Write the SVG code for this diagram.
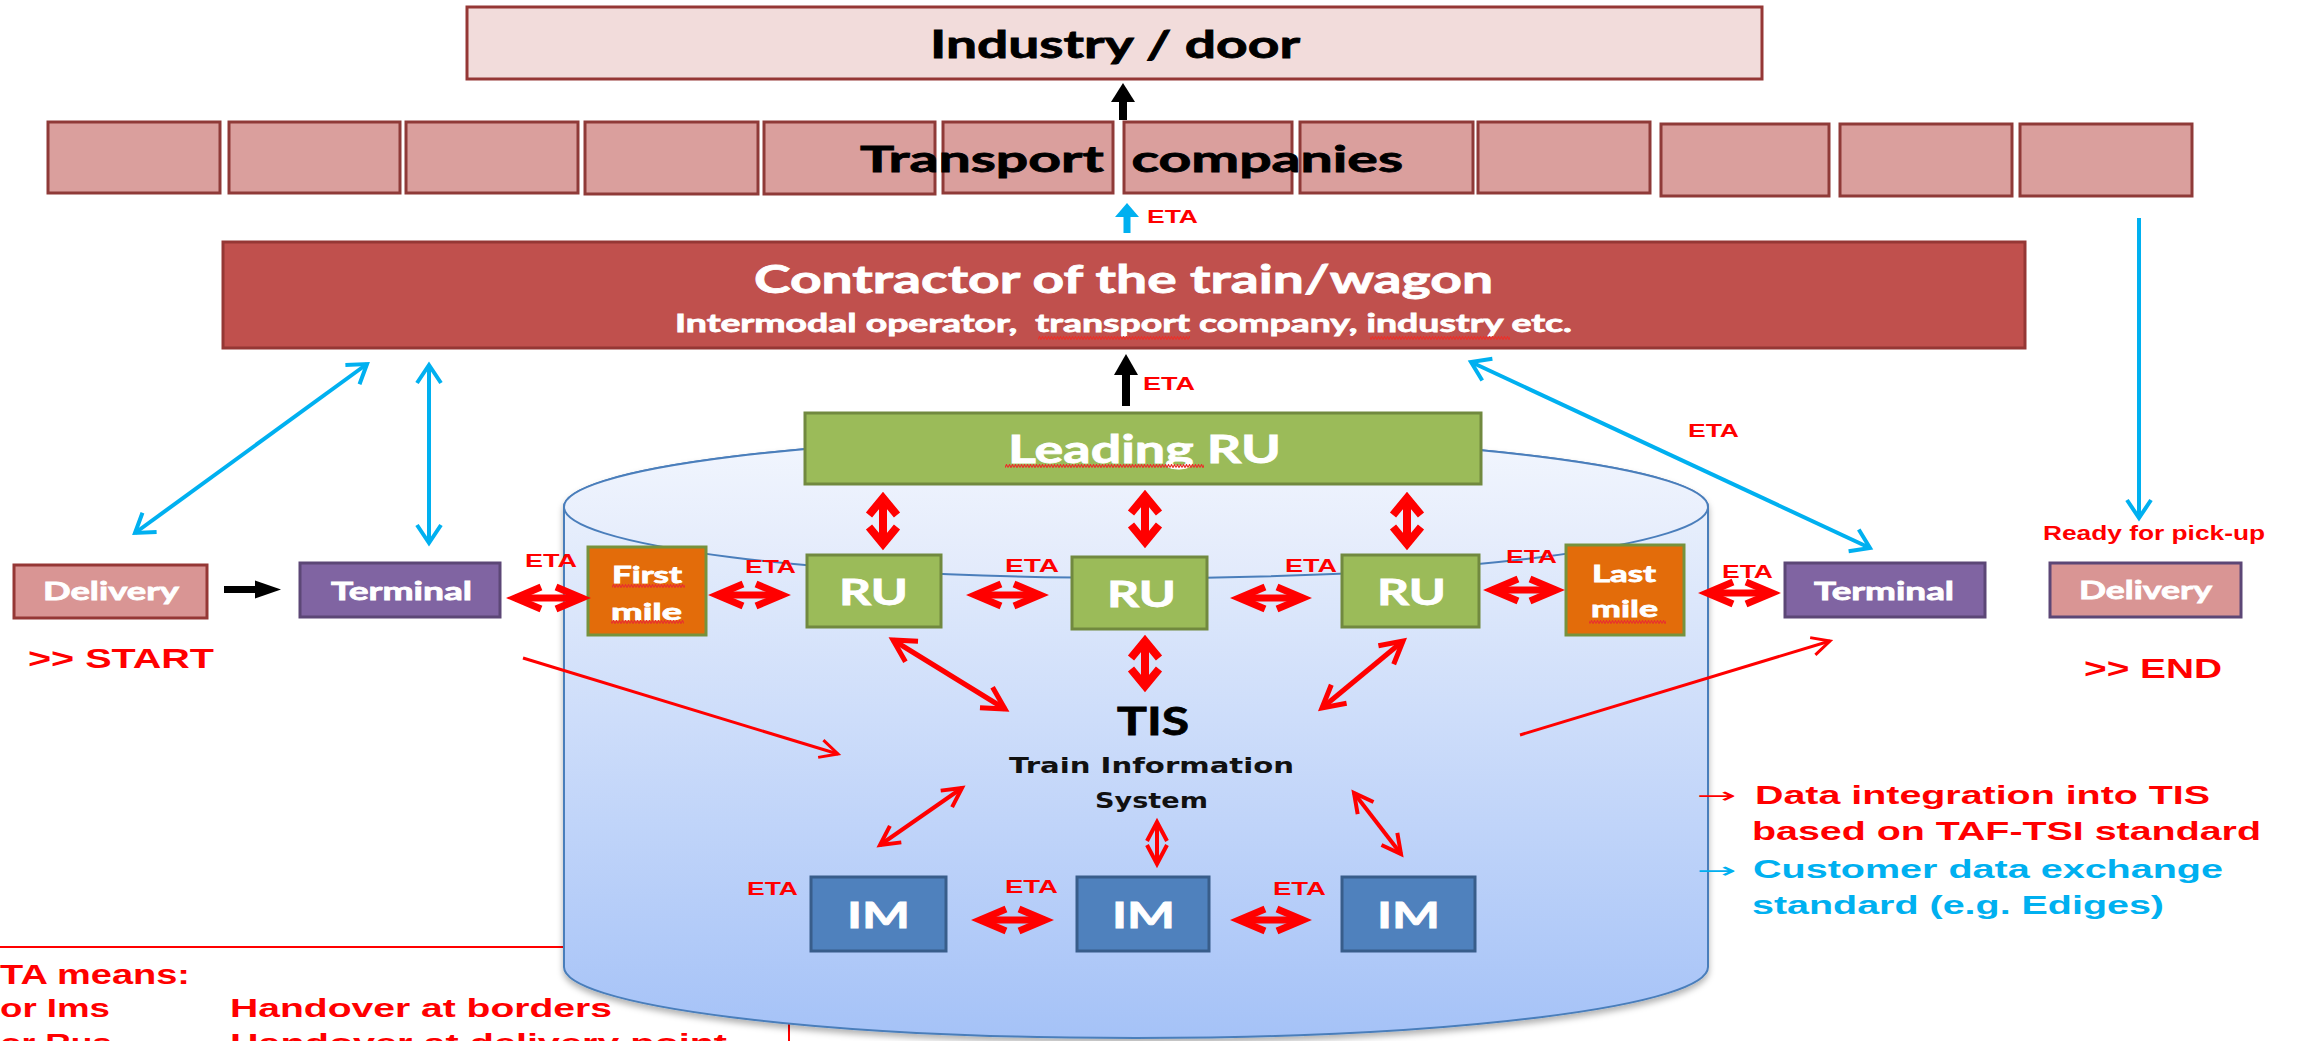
<svg xmlns="http://www.w3.org/2000/svg" width="2302" height="1041" viewBox="0 0 2302 1041">
<style>
.cal{font-family:Lato,'Liberation Sans',sans-serif;font-weight:bold}
.ar{font-family:'Liberation Sans',Arial,sans-serif;font-weight:bold}
.dv{font-family:'DejaVu Sans','Liberation Sans',sans-serif;font-weight:bold}
.w{fill:#FFFFFF;stroke:#FFFFFF;stroke-width:0.8}
.k{fill:#000000;stroke:#000000;stroke-width:0.8}
.red{fill:#FF0000}
.blu{fill:#00B0F0}
.eta{font-family:'Liberation Sans',Arial,sans-serif;font-weight:bold;font-size:19px;fill:#FF0000}
.rbox{stroke:#953735;stroke-width:3}
.tc{fill:#DA9F9D;stroke:#8F3A38;stroke-width:3}
.grn{fill:#9BBB59;stroke:#71893F;stroke-width:3}
.org{fill:#E36C0A;stroke:#76923C;stroke-width:3}
.pur{fill:#8064A2;stroke:#5C4776;stroke-width:3}
.im{fill:#4F81BD;stroke:#385D8A;stroke-width:3}
.rt{stroke:#FF0000;fill:none}
.bl{stroke:#00B0F0;stroke-width:4;fill:none}
</style>
<defs>
<linearGradient id="body" gradientUnits="userSpaceOnUse" x1="0" y1="507" x2="0" y2="1038">
<stop offset="0" stop-color="#E8EFFC"/>
<stop offset="1" stop-color="#A5C2F7"/>
</linearGradient>
<linearGradient id="top" gradientUnits="userSpaceOnUse" x1="0" y1="436" x2="0" y2="578">
<stop offset="0" stop-color="#F2F6FE"/>
<stop offset="1" stop-color="#E2EAFB"/>
</linearGradient>
<filter id="sh" x="-5%" y="-5%" width="110%" height="115%">
<feDropShadow dx="0" dy="4" stdDeviation="3" flood-color="#000" flood-opacity="0.3"/>
</filter>
<pattern id="sq" width="6" height="4" patternUnits="userSpaceOnUse">
<path d="M0,3.5 L1.5,0.5 L3,3.5 L4.5,0.5 L6,3.5" fill="none" stroke="#E8322C" stroke-width="1.2"/>
</pattern>
<marker id="rh" viewBox="-40 -25 50 50" markerWidth="50" markerHeight="50" refX="0" refY="0" orient="auto-start-reverse" markerUnits="userSpaceOnUse" overflow="visible">
<path d="M-26,-11 L0,0 L-26,11" fill="none" stroke="#FF0000" stroke-width="7"/>
</marker>
<marker id="rv" viewBox="-40 -25 50 50" markerWidth="50" markerHeight="50" refX="0" refY="0" orient="auto-start-reverse" markerUnits="userSpaceOnUse" overflow="visible">
<path d="M-17,-14 L0,0 L-17,14" fill="none" stroke="#FF0000" stroke-width="8"/>
</marker>
<marker id="rd" viewBox="-40 -25 50 50" markerWidth="50" markerHeight="50" refX="0" refY="0" orient="auto-start-reverse" markerUnits="userSpaceOnUse" overflow="visible">
<path d="M-22,-12 L0,0 L-22,12" fill="none" stroke="#FF0000" stroke-width="5"/>
</marker>
<marker id="rs" viewBox="-40 -25 50 50" markerWidth="50" markerHeight="50" refX="0" refY="0" orient="auto-start-reverse" markerUnits="userSpaceOnUse" overflow="visible">
<path d="M-18,-9 L0,0 L-18,9" fill="none" stroke="#FF0000" stroke-width="3"/>
</marker>
<marker id="rm" viewBox="-40 -25 50 50" markerWidth="50" markerHeight="50" refX="0" refY="0" orient="auto-start-reverse" markerUnits="userSpaceOnUse" overflow="visible">
<path d="M-19,-10 L0,0 L-19,10" fill="none" stroke="#FF0000" stroke-width="4"/>
</marker>
<marker id="bt" viewBox="-40 -25 50 50" markerWidth="50" markerHeight="50" refX="0" refY="0" orient="auto-start-reverse" markerUnits="userSpaceOnUse" overflow="visible">
<path d="M-18,-12 L0,0 L-18,12" fill="none" stroke="#00B0F0" stroke-width="4"/>
</marker>
</defs>
<rect x="0" y="0" width="2302" height="1041" fill="#FFFFFF"/>

<!-- ETA legend frame (behind the cylinder) -->
<g id="eta-legend">
<path d="M-5,947 H789 V1046" fill="none" stroke="#FF0000" stroke-width="2"/>
<text class="ar red" x="0" y="984" font-size="28" textLength="190" lengthAdjust="spacingAndGlyphs">TA means:</text>
<text class="ar red" x="0" y="1017" font-size="26" textLength="110" lengthAdjust="spacingAndGlyphs">or Ims</text>
<text class="ar red" x="230" y="1017" font-size="26" textLength="382" lengthAdjust="spacingAndGlyphs">Handover at borders</text>
<text class="ar red" x="0" y="1052" font-size="26" textLength="112" lengthAdjust="spacingAndGlyphs">or Rus</text>
<text class="ar red" x="230" y="1052" font-size="26" textLength="497" lengthAdjust="spacingAndGlyphs">Handover at delivery point</text>
</g>

<!-- TIS cylinder -->
<g id="tis">
<path d="M564,507 L564,967 A572,71 0 0 0 1708,967 L1708,507 A572,71 0 0 0 564,507 Z" fill="url(#body)" stroke="#4A7EBB" stroke-width="2" filter="url(#sh)"/>
<ellipse cx="1136" cy="507" rx="572" ry="71" fill="url(#top)" stroke="#4A7EBB" stroke-width="2"/>
<text class="cal k" x="1117" y="735" font-size="38" textLength="72" lengthAdjust="spacingAndGlyphs">TIS</text>
<text class="dv" x="1009" y="773" font-size="22" fill="#111111" textLength="285" lengthAdjust="spacingAndGlyphs">Train Information</text>
<text class="dv" x="1095" y="808" font-size="22" fill="#111111" textLength="113" lengthAdjust="spacingAndGlyphs">System</text>
</g>

<g id="industry">
<rect x="467" y="7" width="1295" height="72" fill="#F2DCDB" class="rbox"/>
<text class="cal k" x="930" y="58" font-size="38" textLength="370" lengthAdjust="spacingAndGlyphs">Industry / door</text>
</g>

<g id="transport-companies">
<rect class="tc" x="48" y="122" width="172" height="71"/>
<rect class="tc" x="229" y="122" width="171" height="71"/>
<rect class="tc" x="406" y="122" width="172" height="71"/>
<rect class="tc" x="585" y="122" width="173" height="72"/>
<rect class="tc" x="764" y="122" width="171" height="72"/>
<rect class="tc" x="943" y="122" width="170" height="71"/>
<rect class="tc" x="1124" y="122" width="168" height="71"/>
<rect class="tc" x="1300" y="122" width="173" height="71"/>
<rect class="tc" x="1478" y="122" width="172" height="71"/>
<rect class="tc" x="1661" y="124" width="168" height="72"/>
<rect class="tc" x="1840" y="124" width="172" height="72"/>
<rect class="tc" x="2020" y="124" width="172" height="72"/>
<text class="cal k" x="860" y="172" font-size="37" xml:space="preserve" textLength="543" lengthAdjust="spacingAndGlyphs">Transport  companies</text>
</g>

<g id="contractor">
<rect x="223" y="242" width="1802" height="106" fill="#C0504D" class="rbox"/>
<text class="cal w" x="754" y="293" font-size="39" textLength="739" lengthAdjust="spacingAndGlyphs">Contractor of the train/wagon</text>
<text class="cal w" x="675" y="332" font-size="25" xml:space="preserve" textLength="897" lengthAdjust="spacingAndGlyphs">Intermodal operator,  transport company, industry etc.</text>
<rect x="1038" y="336" width="152" height="4" fill="url(#sq)"/>
<rect x="1370" y="336" width="140" height="4" fill="url(#sq)"/>
</g>

<g id="leading-ru">
<rect x="805" y="413" width="676" height="71" class="grn"/>
<text class="cal w" x="1008" y="463" font-size="39" textLength="273" lengthAdjust="spacingAndGlyphs">Leading RU</text>
<rect x="1005" y="464" width="199" height="4" fill="url(#sq)"/>
</g>

<g id="ru-1">
<rect x="807" y="555" width="134" height="72" class="grn"/>
<text class="cal w" x="839" y="605" font-size="37" textLength="69" lengthAdjust="spacingAndGlyphs">RU</text>
</g>
<g id="ru-2">
<rect x="1072" y="557" width="135" height="72" class="grn"/>
<text class="cal w" x="1107" y="607" font-size="37" textLength="69" lengthAdjust="spacingAndGlyphs">RU</text>
</g>
<g id="ru-3">
<rect x="1342" y="555" width="137" height="72" class="grn"/>
<text class="cal w" x="1377" y="605" font-size="37" textLength="69" lengthAdjust="spacingAndGlyphs">RU</text>
</g>

<g id="first-mile">
<rect x="588" y="547" width="118" height="88" class="org"/>
<text class="cal w" x="612" y="583" font-size="23" textLength="70" lengthAdjust="spacingAndGlyphs">First</text>
<text class="cal w" x="611" y="620" font-size="23" textLength="71" lengthAdjust="spacingAndGlyphs">mile</text>
<rect x="612" y="584" width="73" height="4" fill="url(#sq)"/>
<rect x="611" y="620" width="73" height="4" fill="url(#sq)"/>
</g>

<g id="last-mile">
<rect x="1566" y="545" width="118" height="90" class="org"/>
<text class="cal w" x="1592" y="582" font-size="23" textLength="64" lengthAdjust="spacingAndGlyphs">Last</text>
<text class="cal w" x="1591" y="617" font-size="23" textLength="67" lengthAdjust="spacingAndGlyphs">mile</text>
<rect x="1589" y="620" width="77" height="4" fill="url(#sq)"/>
</g>

<g id="delivery-start">
<rect x="14" y="565" width="193" height="53" fill="#D99594" class="rbox"/>
<text class="cal w" x="43" y="600" font-size="25" textLength="136" lengthAdjust="spacingAndGlyphs">Delivery</text>
</g>
<g id="terminal-start">
<rect x="300" y="563" width="200" height="54" class="pur"/>
<text class="cal w" x="331" y="600" font-size="25" textLength="141" lengthAdjust="spacingAndGlyphs">Terminal</text>
</g>
<g id="terminal-end">
<rect x="1785" y="563" width="200" height="54" class="pur"/>
<text class="cal w" x="1814" y="600" font-size="25" textLength="140" lengthAdjust="spacingAndGlyphs">Terminal</text>
</g>
<g id="delivery-end">
<rect x="2050" y="563" width="191" height="54" fill="#D99594" stroke="#5C4776" stroke-width="3"/>
<text class="cal w" x="2079" y="599" font-size="25" textLength="133" lengthAdjust="spacingAndGlyphs">Delivery</text>
</g>

<g id="im-1">
<rect x="811" y="877" width="135" height="74" class="im"/>
<text class="cal w" x="847" y="928" font-size="36" textLength="63" lengthAdjust="spacingAndGlyphs">IM</text>
</g>
<g id="im-2">
<rect x="1077" y="877" width="132" height="74" class="im"/>
<text class="cal w" x="1112" y="928" font-size="36" textLength="63" lengthAdjust="spacingAndGlyphs">IM</text>
</g>
<g id="im-3">
<rect x="1342" y="877" width="133" height="74" class="im"/>
<text class="cal w" x="1377" y="928" font-size="36" textLength="63" lengthAdjust="spacingAndGlyphs">IM</text>
</g>

<g id="connectors">
<!-- block arrows -->
<rect x="1119" y="100" width="8" height="20" fill="#000"/>
<polygon points="1111,102 1123,83 1135,102" fill="#000"/>
<rect x="1123.5" y="215" width="7" height="18" fill="#00B0F0"/>
<polygon points="1115,217 1127,203 1139,217" fill="#00B0F0"/>
<rect x="1122" y="373" width="8" height="33" fill="#000"/>
<polygon points="1114,375 1126,354 1138,375" fill="#000"/>
<rect x="224" y="586" width="34" height="7" fill="#000"/>
<polygon points="255,580.5 281,589.5 255,598.5" fill="#000"/>

<!-- blue connectors -->
<line class="bl" x1="367" y1="364" x2="135" y2="533" marker-start="url(#bt)" marker-end="url(#bt)"/>
<line class="bl" x1="429" y1="365" x2="429" y2="543" marker-start="url(#bt)" marker-end="url(#bt)"/>
<line class="bl" x1="1471" y1="362" x2="1870" y2="548" marker-start="url(#bt)" marker-end="url(#bt)"/>
<line class="bl" x1="2139" y1="218" x2="2139" y2="518" marker-end="url(#bt)"/>

<!-- red thick horizontal -->
<line class="rt" stroke-width="7" x1="515" y1="598" x2="582" y2="598" marker-start="url(#rh)" marker-end="url(#rh)"/>
<line class="rt" stroke-width="7" x1="717" y1="595" x2="782" y2="595" marker-start="url(#rh)" marker-end="url(#rh)"/>
<line class="rt" stroke-width="7" x1="975" y1="595" x2="1040" y2="595" marker-start="url(#rh)" marker-end="url(#rh)"/>
<line class="rt" stroke-width="7" x1="1239" y1="598" x2="1303" y2="598" marker-start="url(#rh)" marker-end="url(#rh)"/>
<line class="rt" stroke-width="7" x1="1492" y1="590" x2="1556" y2="590" marker-start="url(#rh)" marker-end="url(#rh)"/>
<line class="rt" stroke-width="7" x1="1707" y1="593" x2="1772" y2="593" marker-start="url(#rh)" marker-end="url(#rh)"/>
<line class="rt" stroke-width="7" x1="980" y1="920" x2="1045" y2="920" marker-start="url(#rh)" marker-end="url(#rh)"/>
<line class="rt" stroke-width="7" x1="1239" y1="920" x2="1303" y2="920" marker-start="url(#rh)" marker-end="url(#rh)"/>

<!-- red thick vertical -->
<line class="rt" stroke-width="8" x1="883" y1="498" x2="883" y2="544" marker-start="url(#rv)" marker-end="url(#rv)"/>
<line class="rt" stroke-width="8" x1="1145" y1="496" x2="1145" y2="542" marker-start="url(#rv)" marker-end="url(#rv)"/>
<line class="rt" stroke-width="8" x1="1407" y1="498" x2="1407" y2="544" marker-start="url(#rv)" marker-end="url(#rv)"/>
<line class="rt" stroke-width="8" x1="1145" y1="641" x2="1145" y2="686" marker-start="url(#rv)" marker-end="url(#rv)"/>

<!-- red diagonal RU-TIS -->
<line class="rt" stroke-width="5" x1="893" y1="640" x2="1005" y2="709" marker-start="url(#rd)" marker-end="url(#rd)"/>
<line class="rt" stroke-width="5" x1="1403" y1="641" x2="1322" y2="708" marker-start="url(#rd)" marker-end="url(#rd)"/>

<!-- red thin -->
<line class="rt" stroke-width="3" x1="523" y1="658" x2="838" y2="754" marker-end="url(#rs)"/>
<line class="rt" stroke-width="3" x1="1520" y1="735" x2="1830" y2="641" marker-end="url(#rs)"/>
<line class="rt" stroke-width="4" x1="880" y1="845" x2="962" y2="788" marker-start="url(#rm)" marker-end="url(#rm)"/>
<line class="rt" stroke-width="4" x1="1157" y1="822" x2="1157" y2="864" marker-start="url(#rm)" marker-end="url(#rm)"/>
<line class="rt" stroke-width="4" x1="1354" y1="793" x2="1401" y2="854" marker-start="url(#rm)" marker-end="url(#rm)"/>

<!-- ETA labels -->
<text class="eta" x="1147" y="223" textLength="51" lengthAdjust="spacingAndGlyphs">ETA</text>
<text class="eta" x="1143" y="390" textLength="52" lengthAdjust="spacingAndGlyphs">ETA</text>
<text class="eta" x="1688" y="437" textLength="51" lengthAdjust="spacingAndGlyphs">ETA</text>
<text class="eta" x="525" y="567" textLength="52" lengthAdjust="spacingAndGlyphs">ETA</text>
<text class="eta" x="745" y="573" textLength="51" lengthAdjust="spacingAndGlyphs">ETA</text>
<text class="eta" x="1005" y="572" textLength="54" lengthAdjust="spacingAndGlyphs">ETA</text>
<text class="eta" x="1285" y="572" textLength="52" lengthAdjust="spacingAndGlyphs">ETA</text>
<text class="eta" x="1506" y="563" textLength="51" lengthAdjust="spacingAndGlyphs">ETA</text>
<text class="eta" x="1722" y="578" textLength="51" lengthAdjust="spacingAndGlyphs">ETA</text>
<text class="eta" x="747" y="895" textLength="51" lengthAdjust="spacingAndGlyphs">ETA</text>
<text class="eta" x="1005" y="893" textLength="53" lengthAdjust="spacingAndGlyphs">ETA</text>
<text class="eta" x="1273" y="895" textLength="53" lengthAdjust="spacingAndGlyphs">ETA</text>
</g>

<g id="annotations">
<text class="ar red" x="2043" y="540" font-size="20" textLength="222" lengthAdjust="spacingAndGlyphs">Ready for pick-up</text>
<text class="ar red" x="28" y="668" font-size="28" textLength="186" lengthAdjust="spacingAndGlyphs">&gt;&gt; START</text>
<text class="ar red" x="2084" y="678" font-size="28" textLength="138" lengthAdjust="spacingAndGlyphs">&gt;&gt; END</text>
</g>

<g id="legend">
<text x="1697" y="803" font-family="'DejaVu Sans',sans-serif" font-size="22" fill="#FF0000" textLength="40" lengthAdjust="spacingAndGlyphs">→</text>
<text class="ar red" x="1755" y="804" font-size="25.5" textLength="455" lengthAdjust="spacingAndGlyphs">Data integration into TIS</text>
<text class="ar red" x="1752" y="840" font-size="25.5" textLength="509" lengthAdjust="spacingAndGlyphs">based on TAF-TSI standard</text>
<text x="1697" y="878" font-family="'DejaVu Sans',sans-serif" font-size="22" fill="#00B0F0" textLength="40" lengthAdjust="spacingAndGlyphs">→</text>
<text class="ar blu" x="1753" y="878" font-size="25.5" textLength="470" lengthAdjust="spacingAndGlyphs">Customer data exchange</text>
<text class="ar blu" x="1752" y="914" font-size="25.5" textLength="412" lengthAdjust="spacingAndGlyphs">standard (e.g. Ediges)</text>
</g>
</svg>
